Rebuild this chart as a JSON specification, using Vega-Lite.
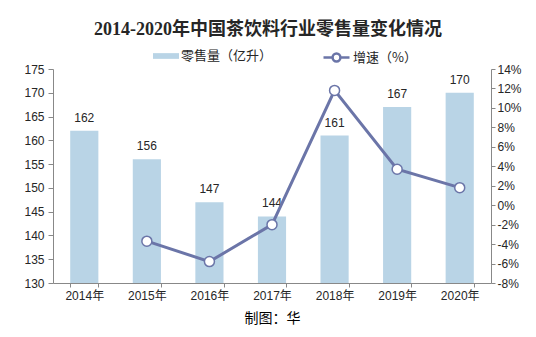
{
  "$schema": "https://vega.github.io/schema/vega-lite/v6.json",
  "width": 438,
  "height": 214,
  "autosize": {"type": "none"},
  "padding": {"left": 53, "top": 69, "right": 45, "bottom": 54},
  "background": "white",
  "title": {
    "text": "2014-2020年中国茶饮料行业零售量变化情况",
    "font": "Liberation Serif, Noto Sans CJK SC",
    "fontSize": 18,
    "fontWeight": "bold",
    "color": "#262626",
    "anchor": "middle",
    "dx": -4,
    "offset": 4
  },
  "data": {
    "values": [
      {"year": "2014年", "sales": 162, "growth": null},
      {"year": "2015年", "sales": 156, "growth": -3.7},
      {"year": "2016年", "sales": 147, "growth": -5.8},
      {"year": "2017年", "sales": 144, "growth": -2.0},
      {"year": "2018年", "sales": 161, "growth": 11.8},
      {"year": "2019年", "sales": 167, "growth": 3.7},
      {"year": "2020年", "sales": 170, "growth": 1.8}
    ]
  },
  "encoding": {
    "x": {
      "field": "year",
      "type": "ordinal",
      "sort": null,
      "scale": {"paddingInner": 0.55, "paddingOuter": 0.275},
      "axis": {
        "title": "制图：华",
        "titleFont": "Noto Sans CJK SC",
        "titleFontSize": 14,
        "titleFontWeight": "normal",
        "titleColor": "#000000",
        "titlePadding": 10,
        "labelAngle": 0,
        "labelFont": "Liberation Sans, Noto Sans CJK SC",
        "labelFontSize": 12,
        "labelColor": "#262626",
        "labelPadding": 3,
        "tickBand": "extent",
        "tickSize": 4,
        "tickColor": "#888888",
        "domainColor": "#888888"
      }
    }
  },
  "layer": [
    {
      "encoding": {
        "y": {
          "field": "sales",
          "type": "quantitative",
          "scale": {"domain": [130, 175], "zero": false, "nice": false},
          "axis": {
            "title": null,
            "values": [130, 135, 140, 145, 150, 155, 160, 165, 170, 175],
            "labelOverlap": false,
            "grid": false,
            "labelFont": "Liberation Sans",
            "labelFontSize": 12,
            "labelColor": "#262626",
            "tickSize": 5,
            "labelPadding": 4,
            "tickColor": "#888888",
            "domainColor": "#888888"
          }
        }
      },
      "layer": [
        {
          "mark": {"type": "bar", "clip": true},
          "encoding": {
            "fill": {
              "datum": "零售量（亿升）",
              "scale": {"range": ["#b9d4e6"]},
              "legend": {
                "orient": "none",
                "legendX": 100,
                "legendY": -26,
                "title": null,
                "symbolType": "M-1,-0.22H1V0.22H-1Z",
                "symbolSize": 676,
                "symbolStrokeWidth": 0,
                "labelFont": "Noto Sans CJK SC",
                "labelFontSize": 13,
                "labelColor": "#262626",
                "labelOffset": 2
              }
            }
          }
        },
        {
          "mark": {"type": "text", "dy": -13, "font": "Liberation Sans", "fontSize": 12, "color": "#262626"},
          "encoding": {
            "text": {"field": "sales", "type": "quantitative"}
          }
        }
      ]
    },
    {
      "transform": [{"filter": "datum.growth != null"}],
      "encoding": {
        "y": {
          "field": "growth",
          "type": "quantitative",
          "scale": {"domain": [-8, 14], "nice": false},
          "axis": {
            "orient": "right",
            "title": null,
            "values": [-8, -6, -4, -2, 0, 2, 4, 6, 8, 10, 12, 14],
            "labelOverlap": false,
            "labelExpr": "datum.value + '%'",
            "grid": false,
            "labelFont": "Liberation Sans",
            "labelFontSize": 12,
            "labelColor": "#262626",
            "tickSize": 4,
            "labelPadding": 2,
            "tickColor": "#888888",
            "domainColor": "#888888"
          }
        }
      },
      "layer": [
        {
          "mark": {"type": "line", "strokeWidth": 3},
          "encoding": {
            "stroke": {
              "datum": "增速（%）",
              "scale": {"range": ["#6b75a8"]},
              "legend": {
                "orient": "none",
                "legendX": 269,
                "legendY": -26,
                "title": null,
                "symbolType": "M-1,0H-0.3M0.3,0H1M-0.3,0A0.3,0.3 0 1,0 0.3,0A0.3,0.3 0 1,0 -0.3,0Z",
                "symbolSize": 676,
                "symbolStrokeWidth": 2.5,
                "symbolFillColor": "white",
                "labelFont": "Noto Sans CJK SC",
                "labelFontSize": 13,
                "labelColor": "#262626",
                "labelOffset": 2
              }
            }
          }
        },
        {
          "mark": {"type": "point", "filled": true, "fill": "white", "stroke": "#6b75a8", "strokeWidth": 1.5, "size": 100, "opacity": 1}
        }
      ]
    }
  ],
  "resolve": {"scale": {"y": "independent"}},
  "config": {
    "view": {"stroke": null},
    "legend": {"padding": 0}
  }
}
